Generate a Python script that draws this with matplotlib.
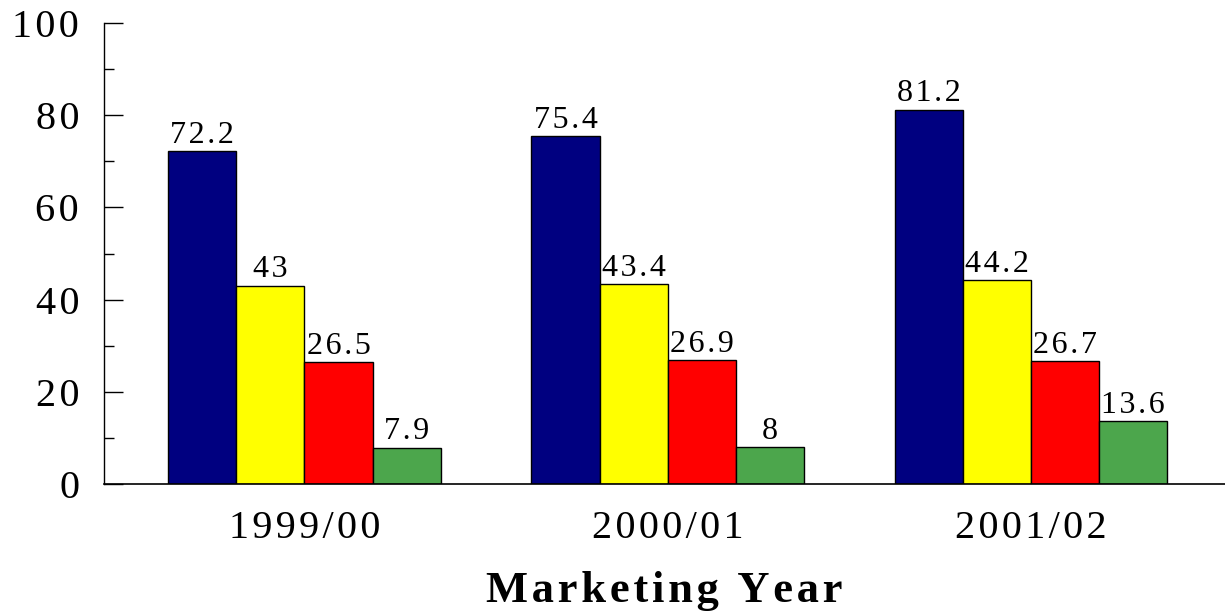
import matplotlib.pyplot as plt
import numpy as np

years = ['1999/00', '2000/01', '2001/02']
series_a = [72.2, 75.4, 81.2]
series_b = [43, 43.4, 44.2]
series_c = [26.5, 26.9, 26.7]
series_d = [7.9, 8, 13.6]
colors = ['#000080', '#FFFF00', '#FF0000', '#4CA64C']

plt.rcParams['font.family'] = ['Liberation Serif', 'DejaVu Serif']

# the original uses letter-spaced text, fake it with hair spaces
def spaced(s, sp='\u200a'):
    return sp.join(s)

fig = plt.figure(figsize=(12.25, 6.12), dpi=100)
ax = fig.add_axes([0.0849, 0.209, 0.9151, 0.7534])

x = np.arange(len(years))
w = 0.1875
allSeries = [series_a, series_b, series_c, series_d]
for i, s in enumerate(allSeries):
    pos = x + (i - 1.5) * w
    ax.bar(pos, s, width=w, color=colors[i], edgecolor='black', linewidth=1)
    for p, v in zip(pos, s):
        ax.annotate(spaced(f"{v:g}"), (p, v), xytext=(0, 1), textcoords='offset points',
                    ha='center', va='bottom', fontsize=23)

ax.set_xlim(-0.552, 2.535)
ax.set_ylim(0, 100)
yt = np.arange(0, 101, 20)
ax.set_yticks(yt)
ax.set_yticklabels([spaced(str(v)) for v in yt])
ax.set_yticks(np.arange(10, 100, 20), minor=True)
ax.tick_params(axis='y', which='major', direction='in', length=13.7, width=1, pad=18, labelsize=29)
ax.tick_params(axis='y', which='minor', direction='in', length=7, width=1)
ax.set_xticks(x)
ax.set_xticklabels([spaced(y) for y in years])
ax.tick_params(axis='x', length=0, pad=19, labelsize=29)
ax.spines['top'].set_visible(False)
ax.spines['right'].set_visible(False)
ax.spines['left'].set_linewidth(1)
ax.spines['bottom'].set_linewidth(1.2)
ax.set_xlabel(spaced('Marketing Year'), fontsize=32, fontweight='bold', labelpad=17)

fig.savefig('out.png', dpi=100)
